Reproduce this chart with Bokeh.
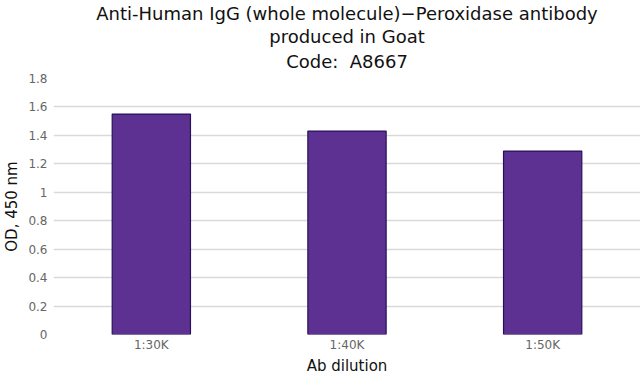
from bokeh.plotting import figure
from bokeh.models import ColumnDataSource, FixedTicker, Range1d, FactorRange, Title
from bokeh.embed import file_html
from bokeh.resources import INLINE

categories = ["1:30K", "1:40K", "1:50K"]
od_values = [1.55, 1.43, 1.29]
y_ticks = [0, 0.2, 0.4, 0.6, 0.8, 1.0, 1.2, 1.4, 1.6, 1.8]
title_lines = ["Anti-Human IgG (whole molecule)\u2212Peroxidase antibody",
               "produced in Goat",
               "Code:\u00a0 A8667"]
x_title = "Ab dilution"
y_title = "OD, 450 nm"

source = ColumnDataSource(dict(cat=categories, od=od_values))

p = figure(width=640, height=377, x_range=FactorRange(*categories, range_padding=0),
           y_range=Range1d(0, 1.8), output_backend="svg", toolbar_location=None,
           min_border_left=40, min_border_right=0, min_border_top=0, min_border_bottom=0)


def style_title(t, standoff=0, valign="bottom"):
    t.align = "center"
    t.text_font = "DejaVu Sans"
    t.text_font_size = "18px"
    t.text_font_style = "normal"
    t.text_color = "#111111"
    t.standoff = standoff
    t.vertical_align = valign
    t.offset = 0


p.title.text = title_lines[0]
style_title(p.title)
t3 = Title(text=title_lines[2])
style_title(t3, standoff=9, valign="top")
p.add_layout(t3, "above")
t2 = Title(text=title_lines[1])
style_title(t2)
p.add_layout(t2, "above")

p.vbar(x="cat", top="od", width=0.4, source=source,
       fill_color="#5c3191", line_color="#26105a", line_width=1.2)

p.outline_line_color = None
p.xgrid.grid_line_color = None
p.ygrid.grid_line_color = "#d9d9d9"
p.ygrid.grid_line_width = 1.5

p.yaxis.ticker = FixedTicker(ticks=y_ticks)
p.yaxis.major_label_overrides = {v: f"{v:g}" for v in y_ticks}

for ax in (p.xaxis[0], p.yaxis[0]):
    ax.axis_line_color = None
    ax.major_tick_line_color = None
    ax.minor_tick_line_color = None
    ax.major_tick_out = 0
    ax.major_tick_in = 0
    ax.minor_tick_out = 0
    ax.minor_tick_in = 0
    ax.major_label_text_font = "DejaVu Sans"
    ax.major_label_text_font_size = "12px"
    ax.major_label_text_color = "#666666"
    ax.axis_label_text_font = "DejaVu Sans"
    ax.axis_label_text_font_size = "15px"
    ax.axis_label_text_font_style = "normal"
    ax.axis_label_text_color = "#111111"

p.xaxis.axis_label = x_title
p.yaxis.axis_label = y_title
p.xaxis.major_label_standoff = 3
p.xaxis.axis_label_standoff = 2
p.yaxis.major_label_standoff = 6
p.yaxis.axis_label_standoff = 4

open("out.html", "w").write(file_html(p, INLINE))
